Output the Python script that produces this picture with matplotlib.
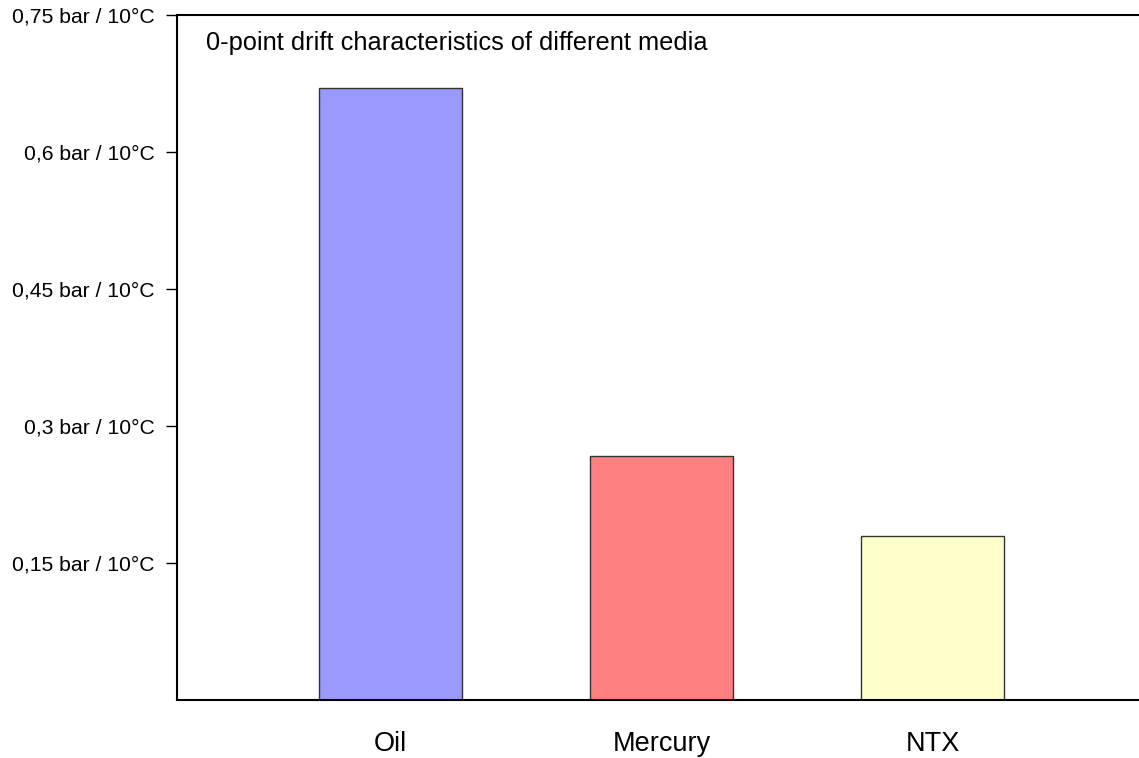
import matplotlib
matplotlib.use("Agg")
import matplotlib.pyplot as plt

categories = ["Oil", "Mercury", "NTX"]
values = [0.670, 0.267, 0.180]
colors = ["#9999FF", "#FF8080", "#FFFFCC"]
yticks = [0.15, 0.3, 0.45, 0.6, 0.75]
ytick_labels = ["0,15 bar / 10°C", "0,3 bar / 10°C", "0,45 bar / 10°C", "0,6 bar / 10°C", "0,75 bar / 10°C"]
title = "0-point drift characteristics of different media"

plt.rcParams['font.family'] = ['Liberation Sans', 'DejaVu Sans']

fig = plt.figure(figsize=(11.39, 7.58), dpi=100)
ax = fig.add_axes([177/1139, 1-700/758, (1146-177)/1139, (700-15)/758])

x = list(range(len(categories)))
ax.bar(x, values, width=0.528, color=colors, edgecolor="#333333", linewidth=1.0, zorder=2)
ax.set_xlim(-0.788, 2.788)
ax.set_ylim(0, 0.75)
ax.set_yticks(yticks)
ax.set_yticklabels(ytick_labels, fontsize=15.2)
ax.tick_params(axis='y', direction='out', length=8, width=1, pad=8)
ax.set_xticks(x)
ax.set_xticklabels(categories, fontsize=19.5)
ax.tick_params(axis='x', length=0, pad=22)

for s in ['left', 'bottom', 'top']:
    ax.spines[s].set_linewidth(1.5)
    ax.spines[s].set_color('black')
ax.spines['right'].set_visible(False)

ax.text(29/969, 1-28/685, title, transform=ax.transAxes, fontsize=18.3, ha='left', va='center')

fig.savefig("out.png", dpi=100)
